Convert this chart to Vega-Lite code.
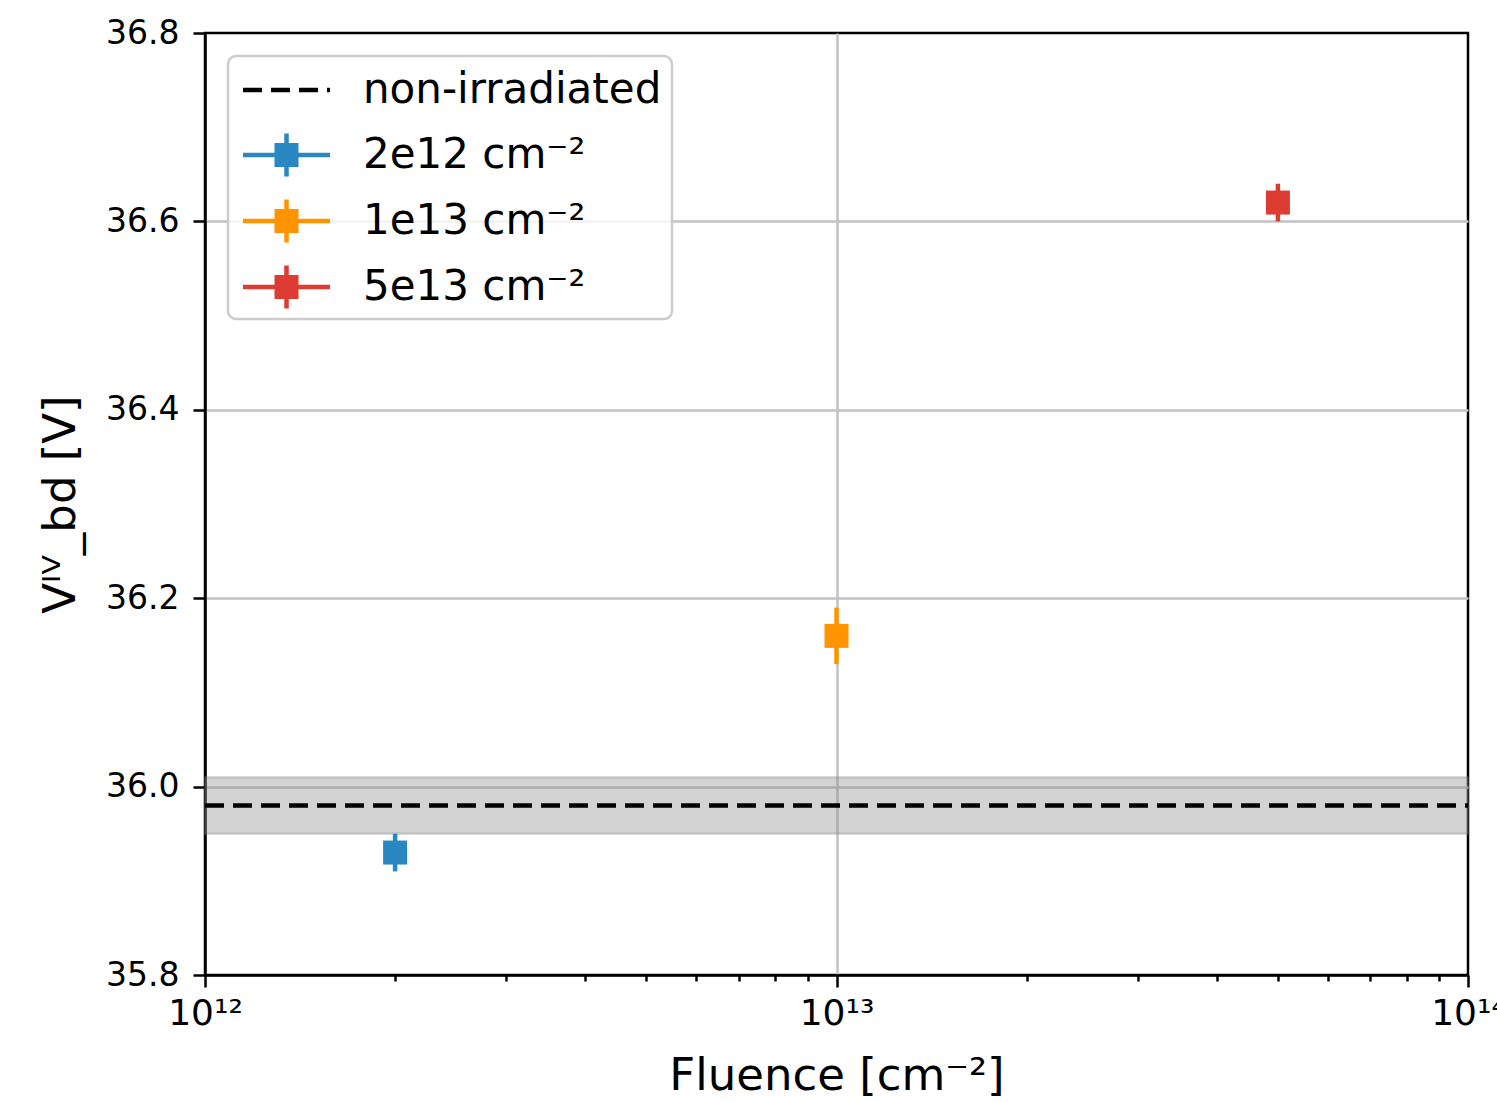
{
  "$schema": "https://vega.github.io/schema/vega-lite/v6.json",
  "autosize": {"type": "none"},
  "width": 1263,
  "height": 942,
  "padding": {"left": 205, "top": 33, "right": 29, "bottom": 127},
  "background": "white",
  "config": {
    "font": "DejaVu Sans",
    "view": {"stroke": "black", "strokeWidth": 2.5},
    "axis": {
      "domainColor": "black",
      "domainWidth": 2.5,
      "tickColor": "black",
      "tickWidth": 2.5,
      "labelFont": "DejaVu Sans",
      "labelColor": "black",
      "labelFontSize": 33,
      "titleFont": "DejaVu Sans",
      "titleFontWeight": "normal",
      "titleColor": "black",
      "titleFontSize": 45,
      "gridColor": "#c2c2c2",
      "gridWidth": 2.5
    }
  },
  "datasets": {
    "points": [
      {"fluence": 2e12, "vbd": 35.93, "vlow": 35.91, "vhigh": 35.95, "series": "2e12 cm⁻²"},
      {"fluence": 1e13, "vbd": 36.16, "vlow": 36.13, "vhigh": 36.19, "series": "1e13 cm⁻²"},
      {"fluence": 5e13, "vbd": 36.62, "vlow": 36.60, "vhigh": 36.64, "series": "5e13 cm⁻²"}
    ],
    "reference": [
      {"fmin": 1e12, "fmax": 1e14, "vbd": 35.98, "vlow": 35.95, "vhigh": 36.01, "series": "non-irradiated"}
    ]
  },
  "layer": [
    {
      "data": {"name": "reference"},
      "mark": {"type": "rect", "fill": "gray", "fillOpacity": 0.35, "stroke": "gray", "strokeOpacity": 0.3, "strokeWidth": 2.5},
      "encoding": {
        "x": {
          "field": "fmin", "type": "quantitative",
          "scale": {"type": "log", "domain": [1e12, 1e14], "nice": false},
          "axis": {
            "title": "Fluence [cm⁻²]",
            "titlePadding": 22,
            "values": [1e12, 2e12, 3e12, 4e12, 5e12, 6e12, 7e12, 8e12, 9e12, 1e13, 2e13, 3e13, 4e13, 5e13, 6e13, 7e13, 8e13, 9e13, 1e14],
            "labelExpr": "datum.value == 1e12 ? '10¹²' : datum.value == 1e13 ? '10¹³' : datum.value == 1e14 ? '10¹⁴' : ''",
            "labelOverlap": false,
            "labelBound": false,
            "labelFlush": false,
            "labelFontSize": 36,
            "labelPadding": 9,
            "tickSize": {"condition": {"test": "datum.value == 1e12 || datum.value == 1e13 || datum.value == 1e14", "value": 12}, "value": 6},
            "gridOpacity": {"condition": {"test": "datum.value == 1e13", "value": 1}, "value": 0}
          }
        },
        "x2": {"field": "fmax"},
        "y": {
          "field": "vlow", "type": "quantitative",
          "scale": {"domain": [35.8, 36.8], "nice": false, "zero": false},
          "axis": {
            "title": "Vᴵⱽ_bd [V]",
            "titlePadding": 22,
            "values": [35.8, 36.0, 36.2, 36.4, 36.6, 36.8],
            "format": ".1f",
            "tickSize": 12,
            "labelPadding": 14,
            "gridOpacity": {"condition": {"test": "datum.value < 35.85 || datum.value > 36.75", "value": 0}, "value": 1}
          }
        },
        "y2": {"field": "vhigh"}
      }
    },
    {
      "data": {"name": "reference"},
      "mark": {"type": "rule", "color": "black", "strokeWidth": 4.5, "strokeDash": [19, 9]},
      "encoding": {
        "x": {"field": "fmin", "type": "quantitative"},
        "x2": {"field": "fmax"},
        "y": {"field": "vbd", "type": "quantitative"}
      }
    },
    {
      "data": {"name": "points"},
      "mark": {"type": "rule", "strokeWidth": 4.5},
      "encoding": {
        "x": {"field": "fluence", "type": "quantitative"},
        "y": {"field": "vlow", "type": "quantitative"},
        "y2": {"field": "vhigh"},
        "color": {
          "field": "series", "type": "nominal",
          "scale": {
            "domain": ["non-irradiated", "2e12 cm⁻²", "1e13 cm⁻²", "5e13 cm⁻²"],
            "range": ["black", "#2988c1", "#ff9400", "#dc3c31"]
          }
        }
      }
    },
    {
      "data": {"name": "points"},
      "mark": {"type": "point", "shape": "square", "filled": true, "opacity": 1, "size": 576},
      "encoding": {
        "x": {"field": "fluence", "type": "quantitative"},
        "y": {"field": "vbd", "type": "quantitative"},
        "color": {"field": "series", "type": "nominal"}
      }
    },
    {
      "data": {"name": "points"},
      "mark": {"type": "point", "filled": true, "opacity": 0},
      "encoding": {
        "x": {"field": "fluence", "type": "quantitative"},
        "y": {"field": "vbd", "type": "quantitative"},
        "color": {
          "field": "series", "type": "nominal",
          "legend": {
            "title": null,
            "orient": "none",
            "legendX": 23,
            "legendY": 23,
            "padding": 10,
            "rowPadding": 20,
            "labelFont": "DejaVu Sans",
            "labelFontSize": 42,
            "labelColor": "black",
            "labelOffset": 77,
            "labelLimit": 600,
            "symbolSize": 2304,
            "symbolOpacity": 1,
            "symbolStrokeWidth": 0,
            "fillColor": "rgba(255,255,255,0.8)",
            "strokeColor": "#cccccc",
            "cornerRadius": 8,
            "encode": {"legend": {"update": {"strokeWidth": {"value": 2.5}}}}
          }
        },
        "shape": {
          "field": "series", "type": "nominal",
          "scale": {
            "domain": ["non-irradiated", "2e12 cm⁻²", "1e13 cm⁻²", "5e13 cm⁻²"],
            "range": [
              "M-0.792,-0.094H0V0.094H-0.792Z M0.375,-0.094H1.167V0.094H0.375Z M1.542,-0.094H2.333V0.094H1.542Z M2.708,-0.094H2.833V0.094H2.708Z",
              "M-0.792,-0.094H2.833V0.094H-0.792Z M0.521,-0.5H1.521V0.5H0.521Z M0.927,-0.896H1.115V0.896H0.927Z",
              "M-0.792,-0.094H2.833V0.094H-0.792Z M0.521,-0.5H1.521V0.5H0.521Z M0.927,-0.896H1.115V0.896H0.927Z",
              "M-0.792,-0.094H2.833V0.094H-0.792Z M0.521,-0.5H1.521V0.5H0.521Z M0.927,-0.896H1.115V0.896H0.927Z"
            ]
          }
        }
      }
    }
  ]
}
